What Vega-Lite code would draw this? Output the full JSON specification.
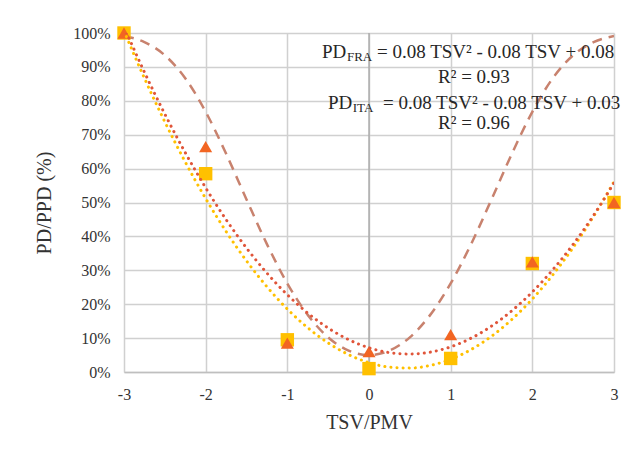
{
  "$schema": "https://vega.github.io/schema/vega-lite/v6.json",
  "width": 490,
  "height": 339,
  "autosize": {"type": "none"},
  "padding": {"left": 124, "top": 33, "right": 23, "bottom": 86},
  "background": "white",
  "config": {
    "font": "Liberation Serif",
    "view": {"stroke": null},
    "axis": {
      "labelFont": "Liberation Serif",
      "titleFont": "Liberation Serif",
      "labelColor": "#333333",
      "titleColor": "#333333",
      "titleFontWeight": "normal",
      "gridColor": "#D0D0D0",
      "gridWidth": 1.5,
      "ticks": false,
      "labelOverlap": false,
      "labelFlush": false
    }
  },
  "datasets": {
    "points": [
      {"series": "ITA", "tsv": -3, "pd": 1.0},
      {"series": "ITA", "tsv": -2, "pd": 0.585},
      {"series": "ITA", "tsv": -1, "pd": 0.095},
      {"series": "ITA", "tsv": 0, "pd": 0.01},
      {"series": "ITA", "tsv": 1, "pd": 0.04},
      {"series": "ITA", "tsv": 2, "pd": 0.32},
      {"series": "ITA", "tsv": 3, "pd": 0.5},
      {"series": "FRA", "tsv": -3, "pd": 1.0},
      {"series": "FRA", "tsv": -2, "pd": 0.665},
      {"series": "FRA", "tsv": -1, "pd": 0.085},
      {"series": "FRA", "tsv": 0, "pd": 0.06},
      {"series": "FRA", "tsv": 1, "pd": 0.11},
      {"series": "FRA", "tsv": 2, "pd": 0.325},
      {"series": "FRA", "tsv": 3, "pd": 0.5}
    ],
    "curves": [
      {"curve": "PPD", "tsv": -3, "pd": 0.9912},
      {"curve": "PPD", "tsv": -2.75, "pd": 0.9731},
      {"curve": "PPD", "tsv": -2.5, "pd": 0.9343},
      {"curve": "PPD", "tsv": -2.25, "pd": 0.8665},
      {"curve": "PPD", "tsv": -2, "pd": 0.7676},
      {"curve": "PPD", "tsv": -1.75, "pd": 0.6441},
      {"curve": "PPD", "tsv": -1.5, "pd": 0.509},
      {"curve": "PPD", "tsv": -1.25, "pd": 0.3772},
      {"curve": "PPD", "tsv": -1, "pd": 0.2612},
      {"curve": "PPD", "tsv": -0.75, "pd": 0.1685},
      {"curve": "PPD", "tsv": -0.5, "pd": 0.1022},
      {"curve": "PPD", "tsv": -0.25, "pd": 0.063},
      {"curve": "PPD", "tsv": 0, "pd": 0.05},
      {"curve": "PPD", "tsv": 0.25, "pd": 0.063},
      {"curve": "PPD", "tsv": 0.5, "pd": 0.1022},
      {"curve": "PPD", "tsv": 0.75, "pd": 0.1685},
      {"curve": "PPD", "tsv": 1, "pd": 0.2612},
      {"curve": "PPD", "tsv": 1.25, "pd": 0.3772},
      {"curve": "PPD", "tsv": 1.5, "pd": 0.509},
      {"curve": "PPD", "tsv": 1.75, "pd": 0.6441},
      {"curve": "PPD", "tsv": 2, "pd": 0.7676},
      {"curve": "PPD", "tsv": 2.25, "pd": 0.8665},
      {"curve": "PPD", "tsv": 2.5, "pd": 0.9343},
      {"curve": "PPD", "tsv": 2.75, "pd": 0.9731},
      {"curve": "PPD", "tsv": 3, "pd": 0.9912},
      {"curve": "FRA", "tsv": -3, "pd": 1.0182},
      {"curve": "FRA", "tsv": -2.75, "pd": 0.8846},
      {"curve": "FRA", "tsv": -2.5, "pd": 0.7609},
      {"curve": "FRA", "tsv": -2.25, "pd": 0.6472},
      {"curve": "FRA", "tsv": -2, "pd": 0.5434},
      {"curve": "FRA", "tsv": -1.75, "pd": 0.4496},
      {"curve": "FRA", "tsv": -1.5, "pd": 0.3657},
      {"curve": "FRA", "tsv": -1.25, "pd": 0.2918},
      {"curve": "FRA", "tsv": -1, "pd": 0.2278},
      {"curve": "FRA", "tsv": -0.75, "pd": 0.1738},
      {"curve": "FRA", "tsv": -0.5, "pd": 0.1297},
      {"curve": "FRA", "tsv": -0.25, "pd": 0.0956},
      {"curve": "FRA", "tsv": 0, "pd": 0.0714},
      {"curve": "FRA", "tsv": 0.25, "pd": 0.0572},
      {"curve": "FRA", "tsv": 0.5, "pd": 0.0529},
      {"curve": "FRA", "tsv": 0.75, "pd": 0.0586},
      {"curve": "FRA", "tsv": 1, "pd": 0.0742},
      {"curve": "FRA", "tsv": 1.25, "pd": 0.0998},
      {"curve": "FRA", "tsv": 1.5, "pd": 0.1353},
      {"curve": "FRA", "tsv": 1.75, "pd": 0.1808},
      {"curve": "FRA", "tsv": 2, "pd": 0.2362},
      {"curve": "FRA", "tsv": 2.25, "pd": 0.3016},
      {"curve": "FRA", "tsv": 2.5, "pd": 0.3769},
      {"curve": "FRA", "tsv": 2.75, "pd": 0.4622},
      {"curve": "FRA", "tsv": 3, "pd": 0.5574},
      {"curve": "ITA", "tsv": -3, "pd": 1.0059},
      {"curve": "ITA", "tsv": -2.75, "pd": 0.8667},
      {"curve": "ITA", "tsv": -2.5, "pd": 0.7379},
      {"curve": "ITA", "tsv": -2.25, "pd": 0.6196},
      {"curve": "ITA", "tsv": -2, "pd": 0.5118},
      {"curve": "ITA", "tsv": -1.75, "pd": 0.4146},
      {"curve": "ITA", "tsv": -1.5, "pd": 0.3278},
      {"curve": "ITA", "tsv": -1.25, "pd": 0.2515},
      {"curve": "ITA", "tsv": -1, "pd": 0.1857},
      {"curve": "ITA", "tsv": -0.75, "pd": 0.1305},
      {"curve": "ITA", "tsv": -0.5, "pd": 0.0857},
      {"curve": "ITA", "tsv": -0.25, "pd": 0.0514},
      {"curve": "ITA", "tsv": 0, "pd": 0.0276},
      {"curve": "ITA", "tsv": 0.25, "pd": 0.0144},
      {"curve": "ITA", "tsv": 0.5, "pd": 0.0115},
      {"curve": "ITA", "tsv": 0.75, "pd": 0.0193},
      {"curve": "ITA", "tsv": 1, "pd": 0.0375},
      {"curve": "ITA", "tsv": 1.25, "pd": 0.0663},
      {"curve": "ITA", "tsv": 1.5, "pd": 0.1054},
      {"curve": "ITA", "tsv": 1.75, "pd": 0.1552},
      {"curve": "ITA", "tsv": 2, "pd": 0.2154},
      {"curve": "ITA", "tsv": 2.25, "pd": 0.2862},
      {"curve": "ITA", "tsv": 2.5, "pd": 0.3673},
      {"curve": "ITA", "tsv": 2.75, "pd": 0.4591},
      {"curve": "ITA", "tsv": 3, "pd": 0.5613}
    ],
    "notes": [
      {"role": "main", "tsv": -0.576, "pd": 0.944, "text": "PD"},
      {"role": "sub", "tsv": -0.27, "pd": 0.93, "text": "FRA"},
      {"role": "main", "tsv": 0.098, "pd": 0.944, "text": "= 0.08 TSV² - 0.08 TSV + 0.08"},
      {"role": "main", "tsv": 0.845, "pd": 0.87, "text": "R² = 0.93"},
      {"role": "main", "tsv": -0.502, "pd": 0.794, "text": "PD"},
      {"role": "sub", "tsv": -0.2, "pd": 0.78, "text": "ITA"},
      {"role": "main", "tsv": 0.171, "pd": 0.794, "text": "= 0.08 TSV² - 0.08 TSV + 0.03"},
      {"role": "main", "tsv": 0.845, "pd": 0.735, "text": "R² = 0.96"}
    ],
    "zero": [{"tsv": 0, "pd": 0, "pd2": 1}]
  },
  "encoding": {
    "x": {
      "field": "tsv", "type": "quantitative",
      "scale": {"domain": [-3, 3], "nice": false, "zero": false},
      "axis": {
        "title": "TSV/PMV", "values": [-3, -2, -1, 0, 1, 2, 3], "tickCount": 7,
        "labelExpr": "'' + datum.value",
        "labelFont": "Liberation Serif", "titleFont": "Liberation Serif",
        "labelFontSize": 16, "labelPadding": 14, "titleFontSize": 20, "titlePadding": 10,
        "labelOverlap": false, "labelFlush": false,
        "grid": true, "gridColor": "#D0D0D0", "gridWidth": 1.5,
        "domainColor": "#BFBFBF", "domainWidth": 1.5
      }
    },
    "y": {
      "field": "pd", "type": "quantitative",
      "scale": {"domain": [0, 1], "nice": false},
      "axis": {
        "title": "PD/PPD (%)", "values": [0, 0.1, 0.2, 0.3, 0.4, 0.5, 0.6, 0.7, 0.8, 0.9, 1], "tickCount": 11,
        "format": ".0%",
        "labelFont": "Liberation Serif", "titleFont": "Liberation Serif",
        "labelFontSize": 16, "labelPadding": 14, "titleFontSize": 20, "titlePadding": 18,
        "labelOverlap": false, "labelFlush": false,
        "grid": true, "gridColor": "#D0D0D0", "gridWidth": 1.5,
        "domain": false
      }
    }
  },
  "layer": [
    {
      "data": {"name": "zero"},
      "mark": {"type": "rule", "color": "#A6A6A6", "strokeWidth": 1.3},
      "encoding": {"y2": {"field": "pd2"}}
    },
    {
      "data": {"name": "curves"},
      "transform": [{"filter": "datum.curve === 'PPD'"}],
      "mark": {"type": "line", "interpolate": "monotone", "color": "#C8826E", "strokeWidth": 2.5, "strokeDash": [10, 7], "clip": true},
      "encoding": {}
    },
    {
      "data": {"name": "points"},
      "transform": [{"filter": "datum.series === 'ITA'"}],
      "mark": {"type": "square", "color": "#FFC000", "opacity": 1, "size": 180}
    },
    {
      "data": {"name": "points"},
      "transform": [{"filter": "datum.series === 'FRA'"}],
      "mark": {"type": "point", "shape": "triangle-up", "filled": true, "color": "#F26522", "opacity": 1, "size": 170}
    },
    {
      "data": {"name": "curves"},
      "transform": [{"filter": "datum.curve === 'ITA'"}],
      "mark": {"type": "line", "interpolate": "monotone", "color": "#FFC000", "strokeWidth": 3, "strokeDash": [0.1, 6], "strokeCap": "round", "clip": true},
      "encoding": {}
    },
    {
      "data": {"name": "curves"},
      "transform": [{"filter": "datum.curve === 'FRA'"}],
      "mark": {"type": "line", "interpolate": "monotone", "color": "#E0553A", "strokeWidth": 3, "strokeDash": [0.1, 6], "strokeCap": "round", "clip": true},
      "encoding": {}
    },
    {
      "data": {"name": "notes"},
      "transform": [{"filter": "datum.role === 'main'"}],
      "mark": {"type": "text", "align": "left", "baseline": "middle", "fontSize": 19, "color": "#262626", "font": "Liberation Serif"},
      "encoding": {"text": {"field": "text"}}
    },
    {
      "data": {"name": "notes"},
      "transform": [{"filter": "datum.role === 'sub'"}],
      "mark": {"type": "text", "align": "left", "baseline": "middle", "fontSize": 13, "color": "#262626", "font": "Liberation Serif"},
      "encoding": {"text": {"field": "text"}}
    }
  ]
}
